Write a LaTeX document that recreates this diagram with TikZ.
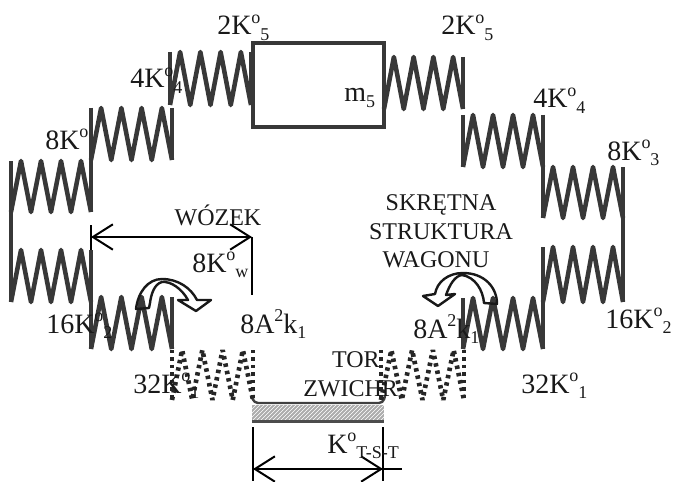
\documentclass[tikz,border=0pt]{standalone}
\usepackage{fontspec}
\setmainfont{Liberation Serif}
\usetikzlibrary{arrows.meta}
\usetikzlibrary{patterns}

\newcommand{\subf}{\fontsize{13.5}{14}\selectfont}
\newcommand{\Ko}[2]{#1K\raisebox{.42em}{\subf o}\raisebox{-.2em}{\subf #2}}
\newcommand{\Ak}{8A\raisebox{.42em}{\subf 2}k\raisebox{-.2em}{\subf 1}}
% one spring: left x, right x, top y, bottom y, line style
\newcommand{\spring}[5]{
\pgfmathsetmacro{\dx}{(#2-#1)/8}
\draw[#5] (#1,#4) -- ({#1+\dx},#3) -- ({#1+2*\dx},#4) -- ({#1+3*\dx},#3) -- ({#1+4*\dx},#4)
-- ({#1+5*\dx},#3) -- ({#1+6*\dx},#4) -- ({#1+7*\dx},#3) -- (#2,#4);
}
\tikzset{
solidline/.style={line width=3.4pt,line join=round,draw=black!78},
wallline/.style={line width=2.8pt,draw=black!78},
dotline/.style={line width=3.5pt,line join=bevel,draw=black!85,dash pattern=on 2.6pt off 3pt},
dimline/.style={line width=1.5pt,black},
dimarrow/.style={line width=1.5pt,black,{Straight Barb[length=15pt,width=19pt]}-{Straight Barb[length=15pt,width=19pt]}},
turn/.style={line width=1.8pt,draw=black!90,line join=round},
lab/.style={inner sep=0pt,font=\fontsize{21}{23}\selectfont,text=black!90},
smalllab/.style={inner sep=0pt,font=\fontsize{18}{20}\selectfont,text=black!90}
}

\begin{document}
\begin{tikzpicture}[x=0.75pt,y=-0.75pt]
\useasboundingbox (0,0) rectangle (673,481);

% track strip
\fill[gray!65] (252,405) rectangle (384,422);
\fill[pattern=north east lines,pattern color=white] (252,405) rectangle (384,420);
\draw[line width=1.6pt,gray!60!black] (252,421.5) -- (384,421.5);
\draw[line width=1.8pt,black!75,rounded corners=3pt] (252,397) -- (254,403) -- (383,403) -- (385,396);

% mass
\draw[line width=3.6pt,black!78] (253,43) rectangle (384,127);

% springs
\foreach \xa/\xb/\ya/\yb in {
170/251/52/105,91/172/108/160,11/91/161/212,11/91/250/302,91/172/297/349,
384/463/57/109,463/543/115/167,543/623/167/218,543/623/247/302,463/543/298/349}
{
\spring{\xa}{\xb}{\ya}{\yb}{solidline}
\draw[wallline] (\xa,\ya) -- (\xa,\yb);
\draw[wallline] (\xb,\ya) -- (\xb,\yb);
}
\foreach \xa/\xb in {172/253,381/464}
{
\spring{\xa}{\xb}{350}{400}{dotline}
\draw[dotline] (\xa,350) -- (\xa,400);
\draw[dotline] (\xb,350) -- (\xb,400);
}

% walls joining the springs
\draw[wallline] (11,161) -- (11,302);
\draw[wallline] (91,108) -- (91,212);
\draw[wallline] (91,250) -- (91,349);
\draw[dimline] (91,225) -- (91,250);
\draw[wallline] (543,115) -- (543,218);
\draw[wallline] (543,247) -- (543,349);
\draw[wallline] (623,167) -- (623,302);

% dimensions
\coordinate (wozekL) at (91,237);
\coordinate (wozekR) at (252,237);
\coordinate (wozekE) at (252,295);
\coordinate (torL) at (253,469);
\coordinate (torR) at (383,469);
\coordinate (torE) at (402,469);
\coordinate (torLa) at (253,427);
\coordinate (torLb) at (253,481);
\coordinate (torRa) at (383,427);
\coordinate (torRb) at (383,481);
\draw[dimarrow] (wozekL) -- (wozekR);
\draw[dimline] (wozekR) -- (wozekE);
\draw[dimarrow] (torL) -- (torR);
\draw[dimline] (torR) -- (torE);
\draw[dimline] (torLa) -- (torLb);
\draw[dimline] (torRa) -- (torRb);

% turning arrows
\draw[turn] (136,309) .. controls (138,292) and (148,279) .. (162,279)
.. controls (178,279) and (191,288) .. (197,300) -- (211,300) -- (196,311) -- (178,300) -- (188,300)
.. controls (182,289) and (171,281) .. (162,282) .. controls (154,284) and (151,295) .. (150,303) -- (149,308) -- cycle;
\draw[turn] (497,304) .. controls (497,287) and (484,273) .. (463,273)
.. controls (448,273) and (437,282) .. (435,294) -- (423,296) -- (438,306) -- (455,294) -- (446,295)
.. controls (450,284) and (455,276) .. (462,275) .. controls (475,277) and (483,290) .. (484,303) -- cycle;

% labels
\node[lab,anchor=base west](k5a) at (217,35){\Ko{2}{5}};
\node[lab,anchor=base west](k5b) at (441,35){\Ko{2}{5}};
\node[lab,anchor=base west](k4a) at (130,88){\Ko{4}{4}};
\node[lab,anchor=base west](k4b) at (533,108){\Ko{4}{4}};
\node[lab,anchor=base west](k3a) at (45,149){8K\raisebox{.42em}{\subf o}};
\node[lab,anchor=base west](k3b) at (607,160){\Ko{8}{3}};
\node[lab,anchor=base west](m5) at (344,102){m\raisebox{-.2em}{\subf 5}};
\node[lab,anchor=base west](kw) at (192,272){\Ko{8}{w}};
\node[lab,anchor=base west](k2a) at (46,333){\Ko{16}{2}};
\node[lab,anchor=base west](k2b) at (605,328){\Ko{16}{2}};
\node[lab,anchor=base west](aka) at (240,333){\Ak};
\node[lab,anchor=base west](akb) at (413,338){\Ak};
\node[lab,anchor=base west](k1a) at (133,393){\Ko{32}{1}};
\node[lab,anchor=base west](k1b) at (521,393){\Ko{32}{1}};
\node[lab,anchor=base west](ktst) at (327,453){K\raisebox{.42em}{\subf o}\raisebox{-.2em}{\subf T-S-T}};
\node[smalllab,anchor=base](wozek) at (218,225){WÓZEK};
\node[smalllab,anchor=base](skretna) at (441,210){SKRĘTNA};
\node[smalllab,anchor=base](struktura) at (441,239){STRUKTURA};
\node[smalllab,anchor=base](wagonu) at (436,267){WAGONU};
\node[smalllab,anchor=base east](tor) at (380,367){TOR};
\node[smalllab,anchor=base west](zwichr) at (303,396){ZWICHR};
\end{tikzpicture}
\end{document}
